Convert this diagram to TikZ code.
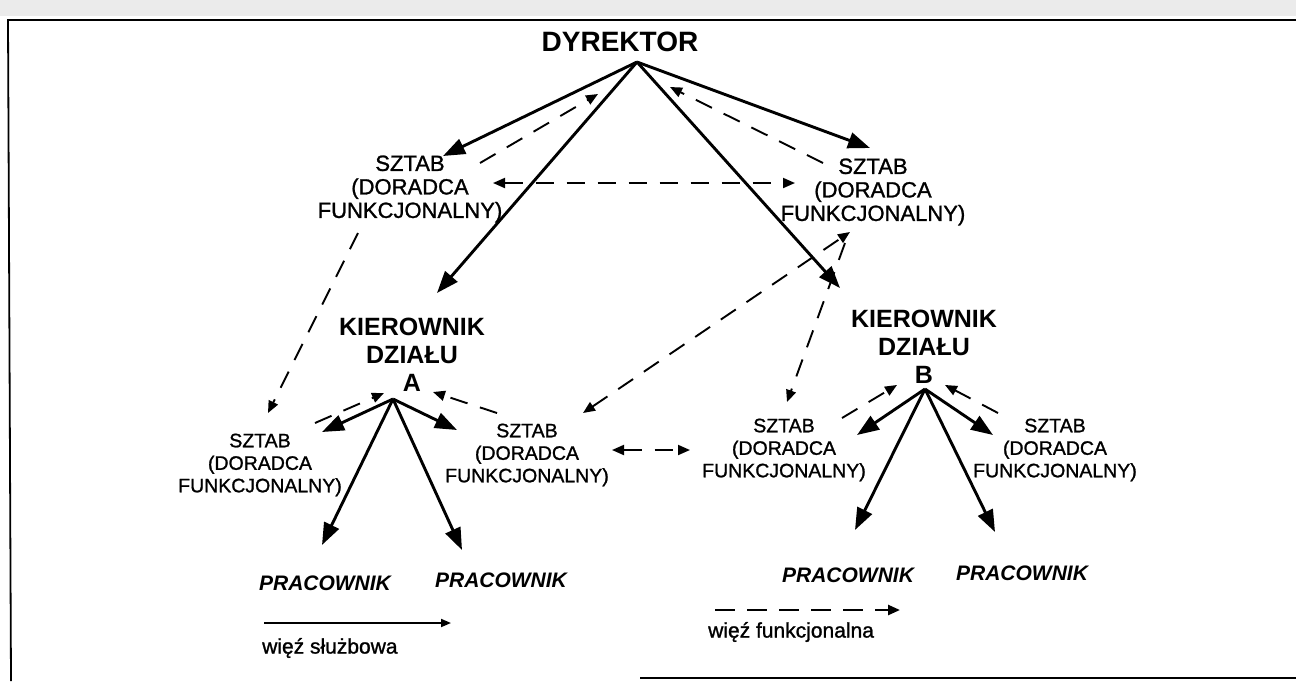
\documentclass[tikz,border=0pt]{standalone}
\usepackage{fontspec}
\setmainfont{Liberation Sans}
\newfontfamily\heavyfont[FakeBold=1.2]{Liberation Sans}
\usetikzlibrary{arrows.meta}
\begin{document}
\begin{tikzpicture}[x=1pt,y=-1pt,
  linelink/.style={line width=2.9pt, -{Triangle[length=22pt,width=16pt]}},
  funclink/.style={line width=1.9pt, dash pattern=on 18pt off 13pt, -{Triangle[length=12pt,width=10pt]}},
  funcboth/.style={funclink, {Triangle[length=12pt,width=10pt]}-{Triangle[length=12pt,width=10pt]}},
  staffbig/.style={align=center, font=\heavyfont\fontsize{22}{23.5}\selectfont, inner sep=0pt},
  staffsmall/.style={align=center, font=\heavyfont\fontsize{19.5}{22.5}\selectfont, inner sep=0pt},
  headtext/.style={align=center, font=\bfseries\fontsize{25}{28}\selectfont, inner sep=0pt},
  worker/.style={font=\bfseries\itshape\fontsize{21}{24}\selectfont, inner sep=0pt},
  legendtext/.style={font=\heavyfont\fontsize{21}{24}\selectfont, inner sep=0pt, anchor=west},
]
\useasboundingbox (0,0) rectangle (1296,681);

% page frame and scanned top strip
\fill[black!8] (0,0) rectangle (1296,16);
\draw[line width=1.8pt] (1296,20) -- (8,20) -- (11,681);
\draw[line width=2pt] (640,678) -- (1296,678);

% texts
\node[font=\bfseries\fontsize{28}{30}\selectfont, inner sep=0pt] (dir) at (620,42) {DYREKTOR};
\node[staffbig] (stL) at (410,189) {SZTAB\\(DORADCA\\FUNKCJONALNY)};
\node[staffbig] (stR) at (873,192) {SZTAB\\(DORADCA\\FUNKCJONALNY)};
\node[headtext] (headA) at (412,355) {KIEROWNIK\\DZIAŁU\\A};
\node[headtext] (headB) at (924,347) {KIEROWNIK\\DZIAŁU\\B};
\node[staffsmall] (saL) at (260,465) {SZTAB\\(DORADCA\\FUNKCJONALNY)};
\node[staffsmall] (saR) at (527,455) {SZTAB\\(DORADCA\\FUNKCJONALNY)};
\node[staffsmall] (sbL) at (784,450) {SZTAB\\(DORADCA\\FUNKCJONALNY)};
\node[staffsmall] (sbR) at (1055,450) {SZTAB\\(DORADCA\\FUNKCJONALNY)};
\node[worker] (p1) at (325,583) {PRACOWNIK};
\node[worker] (p2) at (501,580) {PRACOWNIK};
\node[worker] (p3) at (848,575) {PRACOWNIK};
\node[worker] (p4) at (1022,573) {PRACOWNIK};
\node[legendtext] (legSolidText) at (262,648) {więź służbowa};
\node[legendtext] (legDashText) at (708,632) {więź funkcjonalna};

% line-link endpoints
\coordinate (dirApex) at (637,62);
\coordinate (stLtip) at (443,156);
\coordinate (stRtip) at (870,148);
\coordinate (headAtip) at (437,293);
\coordinate (headBtip) at (840,288);
\coordinate (aApex) at (393,399);
\coordinate (saLtip) at (322,432);
\coordinate (saRtip) at (457,430);
\coordinate (p1tip) at (322,545);
\coordinate (p2tip) at (462,550);
\coordinate (bApex) at (925,389);
\coordinate (sbLtip) at (857,435);
\coordinate (sbRtip) at (993,435);
\coordinate (p3tip) at (855,530);
\coordinate (p4tip) at (995,532);

% functional-link endpoints
\coordinate (stLup) at (480,163);   \coordinate (dirInL) at (598,94);
\coordinate (stRup) at (823,163);   \coordinate (dirInR) at (670,87);
\coordinate (stLside) at (493,183); \coordinate (stRside) at (795,183);
\coordinate (stLdown) at (358,233); \coordinate (saLin) at (268,413);
\coordinate (saRin) at (583,413);   \coordinate (stRdownA) at (850,232);
\coordinate (stRdownB) at (845,243); \coordinate (sbLin) at (787,402);
\coordinate (saLup) at (315,423);   \coordinate (aInL) at (384,393);
\coordinate (saRup) at (497,413);   \coordinate (aInR) at (433,392);
\coordinate (saRside) at (612,450); \coordinate (sbLside) at (690,450);
\coordinate (sbLup) at (842,418);   \coordinate (bInL) at (897,385);
\coordinate (sbRup) at (998,413);   \coordinate (bInR) at (945,385);

% line (service) links
\draw[linelink] (dirApex) -- (stLtip);
\draw[linelink] (dirApex) -- (stRtip);
\draw[linelink] (dirApex) -- (headAtip);
\draw[linelink] (dirApex) -- (headBtip);
\draw[linelink] (aApex) -- (saLtip);
\draw[linelink] (aApex) -- (saRtip);
\draw[linelink] (aApex) -- (p1tip);
\draw[linelink] (aApex) -- (p2tip);
\draw[linelink] (bApex) -- (sbLtip);
\draw[linelink] (bApex) -- (sbRtip);
\draw[linelink] (bApex) -- (p3tip);
\draw[linelink] (bApex) -- (p4tip);

% functional links
\draw[funclink] (stLup) -- (dirInL);
\draw[funclink] (stRup) -- (dirInR);
\draw[funcboth] (stLside) -- (stRside);
\draw[funclink] (stLdown) -- (saLin);
\draw[funcboth] (saRin) -- (stRdownA);
\draw[funclink] (stRdownB) -- (sbLin);
\draw[funclink] (saLup) -- (aInL);
\draw[funclink] (saRup) -- (aInR);
\draw[funcboth] (saRside) -- (sbLside);
\draw[funclink] (sbLup) -- (bInL);
\draw[funclink] (sbRup) -- (bInR);

% legend
\coordinate (legSolidA) at (264,623); \coordinate (legSolidB) at (451,623);
\coordinate (legDashA) at (715,610);  \coordinate (legDashB) at (900,610);
\draw[line width=1.8pt, -{Triangle[length=10pt,width=8pt]}] (legSolidA) -- (legSolidB);
\draw[line width=2.5pt, dash pattern=on 20pt off 12pt, -{Triangle[length=12pt,width=10pt]}] (legDashA) -- (legDashB);
\end{tikzpicture}
\end{document}
